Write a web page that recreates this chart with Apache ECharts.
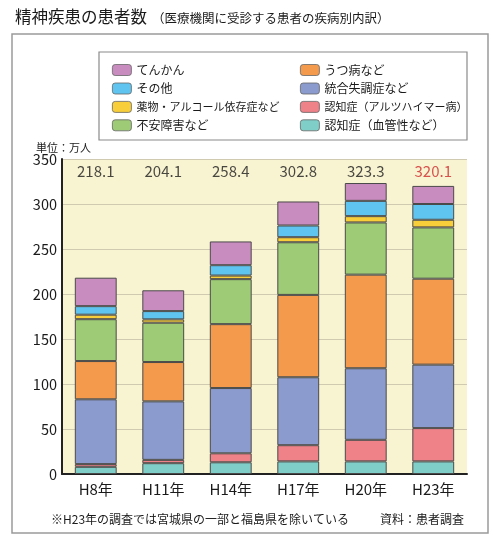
<!DOCTYPE html>
<html><head><meta charset="utf-8">
<script src="https://cdn.jsdelivr.net/npm/echarts@6/dist/echarts.min.js"></script>
<style>html,body{margin:0;padding:0;background:#fff}#c{width:500px;height:546px}</style>
</head><body><div id="c"></div>
<script>
var categories = ['H8年','H11年','H14年','H17年','H20年','H23年'];
var vascular   = [8, 12, 13, 14, 14, 14];
var alzheimer  = [3, 3.7, 10, 18, 24, 37];
var schizo     = [72, 65, 72.5, 75.5, 79.5, 70.5];
var depression = [42.5, 43.7, 71, 91.5, 104, 95.5];
var anxiety    = [46.5, 43.7, 50, 58.5, 58, 57];
var substance  = [5, 3.7, 4, 5.6, 7, 8.5];
var other      = [9.5, 9.2, 11.5, 13, 17, 17.5];
var epilepsy   = [31.6, 23.1, 26.4, 26.7, 19.8, 20.1];
var totals     = [218.1, 204.1, 258.4, 302.8, 323.3, 320.1];
var yTicks     = [0, 50, 100, 150, 200, 250, 300, 350];

var F = '"Noto Sans CJK JP", "Noto Sans", sans-serif';
var defs = [
  ['認知症（血管性など）', vascular, '#80cec8'],
  ['認知症（アルツハイマー病）', alzheimer, '#ef8189'],
  ['統合失調症など', schizo, '#8b9bcd'],
  ['うつ病など', depression, '#f39a4c'],
  ['不安障害など', anxiety, '#9dcb76'],
  ['薬物・アルコール依存症など', substance, '#f8cf3a'],
  ['その他', other, '#5fc5f0'],
  ['てんかん', epilepsy, '#c98cbf']
];
var series = defs.map(function(d){
  return {name:d[0], type:'bar', stack:'all', data:d[1], barWidth:'62%',
    itemStyle:{color:d[2], borderColor:'#4a4a4a', borderWidth:1}};
});
series.push({
  type:'scatter', symbolSize:0, silent:true,
  itemStyle:{color:'transparent'},
  label:{show:true, position:'inside', fontFamily:F, fontSize:15,
    formatter:function(p){return totals[p.dataIndex].toFixed(1);}},
  data: totals.map(function(t,i){
    return {value:336, label:{color: i===totals.length-1 ? '#d0282c' : '#1a1a1a'}};
  })
});

var legendText = {fontFamily:F, fontSize:12, color:'#1a1a1a', rich:{s:{fontFamily:F, fontSize:11, color:'#1a1a1a'}}};
var legendFmt = function(name){ return name.length > 10 ? '{s|' + name + '}' : name; };
var chart = echarts.init(document.getElementById('c'));
chart.setOption({
  animation:false,
  title:[
    {text:'精神疾患の患者数', left:10, top:3, textStyle:{fontFamily:F, fontSize:16.5, fontWeight:'normal', color:'#1a1a1a'}},
    {text:'（医療機関に受診する患者の疾病別内訳）', left:147, top:7, textStyle:{fontFamily:F, fontSize:12.5, fontWeight:'normal', color:'#1a1a1a'}},
    {text:'単位：万人', left:31, top:137, textStyle:{fontFamily:F, fontSize:11, fontWeight:'normal', color:'#1a1a1a'}},
    {text:'※H23年の調査では宮城県の一部と福島県を除いている', left:46, top:508, textStyle:{fontFamily:F, fontSize:12, fontWeight:'normal', color:'#1a1a1a'}},
    {text:'資料：患者調査', right:31, top:508, textStyle:{fontFamily:F, fontSize:12, fontWeight:'normal', color:'#1a1a1a'}}
  ],
  graphic:[
    {type:'rect', shape:{x:12, y:34, width:476, height:499}, style:{fill:'none', stroke:'#9a9a9a', lineWidth:1.5}, z:-10},
    {type:'rect', shape:{x:99, y:52, width:368, height:88}, style:{fill:'#fff', stroke:'#8a8a8a', lineWidth:1.2}, z:-5}
  ],
  legend:[
    {orient:'vertical', left:107, top:59, itemWidth:19, itemHeight:11, itemGap:6.5, itemStyle:{borderColor:'#666', borderWidth:0.8},
      formatter:legendFmt, data:['てんかん','その他','薬物・アルコール依存症など','不安障害など'], textStyle:legendText, selectedMode:false},
    {orient:'vertical', left:295, top:59, itemWidth:19, itemHeight:11, itemGap:6.5, itemStyle:{borderColor:'#666', borderWidth:0.8},
      formatter:legendFmt, data:['うつ病など','統合失調症など','認知症（アルツハイマー病）','認知症（血管性など）'], textStyle:legendText, selectedMode:false}
  ],
  grid:{left:62, right:33, top:159, bottom:72, show:true, backgroundColor:'#f8f3d1', borderWidth:0},
  xAxis:{type:'category', data:categories,
    axisLine:{lineStyle:{color:'#222', width:2}}, axisTick:{show:false},
    axisLabel:{fontFamily:F, fontSize:15, color:'#1a1a1a', margin:8}},
  yAxis:{type:'value', min:0, max:350, interval:50,
    axisLine:{show:true, lineStyle:{color:'#222', width:2}}, axisTick:{show:false},
    splitLine:{lineStyle:{color:'#cfcab0', width:1}},
    axisLabel:{fontFamily:F, fontSize:14.5, color:'#1a1a1a', margin:5,
      formatter:function(v){return yTicks.indexOf(v)>=0 ? String(v) : '';}}},
  series:series
});
</script></body></html>
